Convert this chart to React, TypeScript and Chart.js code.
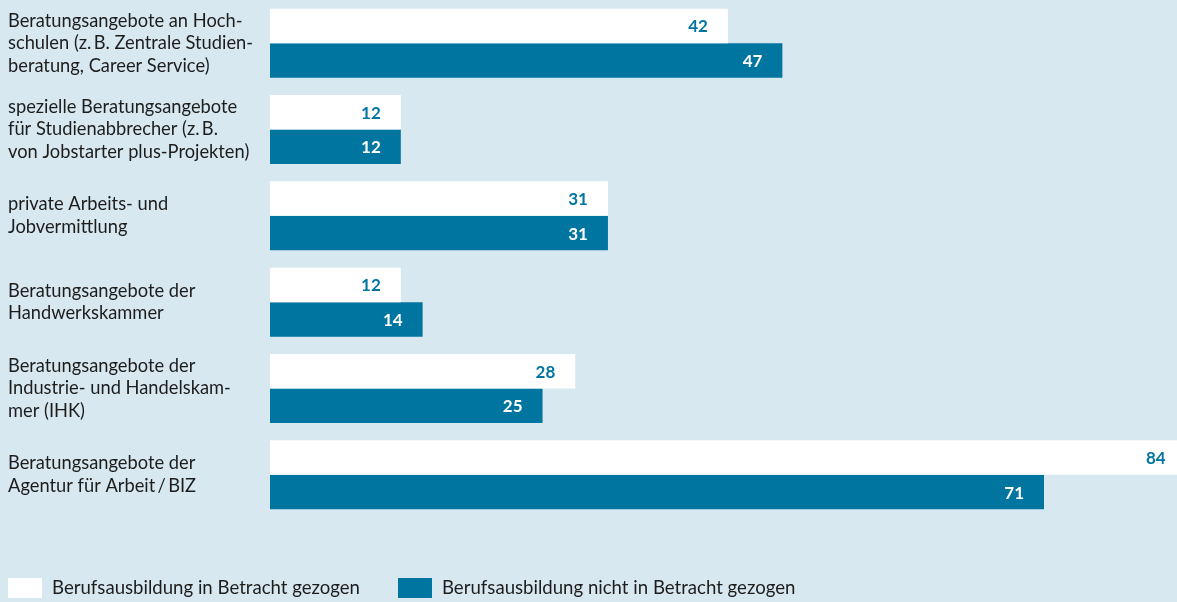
import { useEffect, useRef } from "react";
import { Chart, registerables } from "chart.js";

Chart.register(...registerables);

const categories: string[][] = [
  ["Beratungsangebote an Hoch-", "schulen (z.\u2009B. Zentrale Studien-", "beratung, Career Service)"],
  ["spezielle Beratungsangebote", "für Studienabbrecher (z.\u2009B.", "von Jobstarter plus-Projekten)"],
  ["private Arbeits- und", "Jobvermittlung"],
  ["Beratungsangebote der", "Handwerkskammer"],
  ["Beratungsangebote der", "Industrie- und Handelskam-", "mer (IHK)"],
  ["Beratungsangebote der", "Agentur für Arbeit\u2009/\u2009BIZ"],
];
const seriesNames = [
  "Berufsausbildung in Betracht gezogen",
  "Berufsausbildung nicht in Betracht gezogen",
];
const considered = [42, 12, 31, 12, 28, 84];
const notConsidered = [47, 12, 31, 14, 25, 71];

const BG = "#d7e8f1";
const TEAL = "#0075a0";
const TEXT = "#1d1d1b";
const FONT = "Lato";

const valueLabels = {
  id: "valueLabels",
  afterDatasetsDraw(chart: any) {
    const ctx = chart.ctx;
    ctx.save();
    ctx.font = `bold 17px ${FONT}`;
    ctx.textAlign = "right";
    ctx.textBaseline = "middle";
    chart.data.datasets.forEach((ds: any, i: number) => {
      const meta = chart.getDatasetMeta(i);
      meta.data.forEach((el: any, j: number) => {
        ctx.fillStyle = i === 0 ? TEAL : "#ffffff";
        ctx.fillText(String(ds.data[j]), el.x - 20, el.y + 1);
      });
    });
    ctx.restore();
  },
};

const customLegend = {
  id: "customLegend",
  afterDraw(chart: any) {
    const ctx = chart.ctx;
    ctx.save();
    ctx.font = `18.6px ${FONT}`;
    ctx.textBaseline = "middle";
    ctx.textAlign = "left";
    let x = 8;
    const yc = 588;
    const boxW = 34;
    const boxH = 20;
    chart.data.datasets.forEach((ds: any) => {
      ctx.fillStyle = ds.backgroundColor;
      ctx.fillRect(x, yc - boxH / 2, boxW, boxH);
      ctx.fillStyle = TEXT;
      const tx = x + boxW + 10;
      ctx.fillText(ds.label, tx, yc);
      x = tx + ctx.measureText(ds.label).width + 38;
    });
    ctx.restore();
  },
};

export default function App() {
  const ref = useRef<HTMLCanvasElement | null>(null);

  useEffect(() => {
    document.body.style.margin = "0";
    document.body.style.background = BG;
    if (!ref.current) return;
    const chart = new Chart(ref.current, {
      type: "bar",
      data: {
        labels: categories,
        datasets: [
          {
            label: seriesNames[0],
            data: considered,
            backgroundColor: "#ffffff",
            borderWidth: 0,
            barPercentage: 1,
            categoryPercentage: 0.8,
          },
          {
            label: seriesNames[1],
            data: notConsidered,
            backgroundColor: TEAL,
            borderWidth: 0,
            barPercentage: 1,
            categoryPercentage: 0.8,
          },
        ],
      },
      options: {
        indexAxis: "y",
        responsive: false,
        animation: false,
        layout: { padding: { left: 8, right: 0, top: -2, bottom: 84 } },
        scales: {
          x: {
            display: false,
            min: 0,
            max: 83.2,
          },
          y: {
            grid: { display: false },
            border: { display: false },
            ticks: {
              crossAlign: "far",
              color: TEXT,
              padding: 0,
              font: { family: FONT, size: 18.3, lineHeight: 1.23 },
            },
            afterFit(scale: any) {
              scale.width = 262;
              scale.paddingTop = 0;
              scale.paddingBottom = 0;
            },
          },
        },
        plugins: {
          legend: { display: false },
          tooltip: { enabled: false },
        },
      },
      plugins: [valueLabels, customLegend],
    } as any);
    return () => chart.destroy();
  }, []);

  return (
    <div style={{ width: 1177, height: 602, background: BG }}>
      <canvas ref={ref} width={1177} height={602} style={{ display: "block" }} />
    </div>
  );
}
